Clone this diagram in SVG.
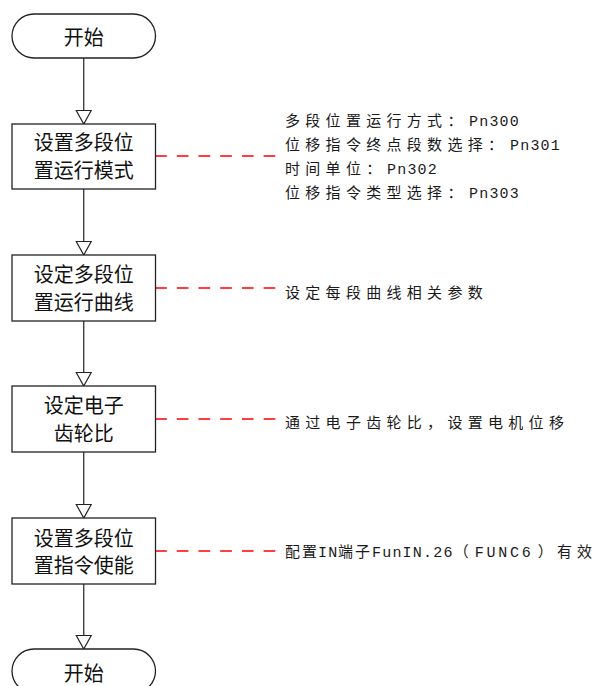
<svg xmlns="http://www.w3.org/2000/svg" width="602" height="686" viewBox="0 0 602 686">
<style>
.node rect{fill:#fff;stroke:#222;stroke-width:1.3}
.lbl{font-family:"Noto Sans CJK SC","Noto Sans",sans-serif;font-size:20px;fill:#111;text-anchor:middle}
.flow{stroke:#222;stroke-width:1.2;fill:none}
.dash{stroke:#f00;stroke-width:1.3;stroke-dasharray:11.7 10;fill:none}
.note{font-family:"Noto Sans CJK SC","Noto Sans",sans-serif;font-size:15px;fill:#1a1a1a;letter-spacing:5.3px}
.mono{font-family:"Liberation Mono","Noto Sans CJK SC",monospace;letter-spacing:1.2px}
</style>
<defs>
<marker id="arr" markerUnits="userSpaceOnUse" markerWidth="16" markerHeight="18" viewBox="0 0 16 18" refX="14.5" refY="8.5" orient="auto">
<path d="M1,1 L14.5,8.5 L1,16 Z" fill="#fff" stroke="#222" stroke-width="1.2"/>
</marker>
</defs>
<rect width="602" height="686" fill="#fff"/>
<g id="connectors">
<line class="flow" x1="83.75" y1="58" x2="83.75" y2="124" marker-end="url(#arr)"/>
<line class="flow" x1="83.75" y1="189" x2="83.75" y2="255" marker-end="url(#arr)"/>
<line class="flow" x1="83.75" y1="321" x2="83.75" y2="386" marker-end="url(#arr)"/>
<line class="flow" x1="83.75" y1="452" x2="83.75" y2="518" marker-end="url(#arr)"/>
<line class="flow" x1="83.75" y1="584" x2="83.75" y2="649" marker-end="url(#arr)"/>
<line class="dash" x1="275.3" y1="156" x2="155.5" y2="156"/>
<line class="dash" x1="275.3" y1="288" x2="155.5" y2="288"/>
<line class="dash" x1="275.3" y1="419" x2="155.5" y2="419"/>
<line class="dash" x1="275.3" y1="551" x2="155.5" y2="551"/>
</g>
<g id="start" class="node">
<rect x="12" y="14" width="143.5" height="44" rx="22" ry="22"/>
<text class="lbl" x="83.75" y="44.5">开始</text>
</g>
<g id="step1" class="node">
<rect x="12" y="124" width="143.5" height="65"/>
<text class="lbl" x="83.75" y="149.5">设置多段位</text>
<text class="lbl" x="83.75" y="177.5">置运行模式</text>
</g>
<g id="step2" class="node">
<rect x="12" y="255" width="143.5" height="66"/>
<text class="lbl" x="83.75" y="281.5">设定多段位</text>
<text class="lbl" x="83.75" y="309.5">置运行曲线</text>
</g>
<g id="step3" class="node">
<rect x="12" y="386" width="143.5" height="66"/>
<text class="lbl" x="83.75" y="412.5">设定电子</text>
<text class="lbl" x="83.75" y="440.5">齿轮比</text>
</g>
<g id="step4" class="node">
<rect x="12" y="518" width="143.5" height="66"/>
<text class="lbl" x="83.75" y="545.5">设置多段位</text>
<text class="lbl" x="83.75" y="572.5">置指令使能</text>
</g>
<g id="end" class="node">
<rect x="12" y="649" width="143.5" height="44" rx="22" ry="22"/>
<text class="lbl" x="83.75" y="680.5">开始</text>
</g>
<g id="note1">
<text class="note" y="125.5"><tspan x="285">多段位置运行方式：</tspan><tspan class="mono" x="469">Pn300</tspan></text>
<text class="note" y="149.5"><tspan x="285">位移指令终点段数选择：</tspan><tspan class="mono" x="510">Pn301</tspan></text>
<text class="note" y="173.5"><tspan x="285">时间单位：</tspan><tspan class="mono" x="387">Pn302</tspan></text>
<text class="note" y="197.5"><tspan x="285">位移指令类型选择：</tspan><tspan class="mono" x="469">Pn303</tspan></text>
</g>
<g id="note2">
<text class="note" x="285" y="297.5">设定每段曲线相关参数</text>
</g>
<g id="note3">
<text class="note" x="285" y="427.5">通过电子齿轮比，设置电机位移</text>
</g>
<g id="note4">
<text class="note" y="556.5"><tspan x="285" letter-spacing="2">配置</tspan><tspan class="mono" x="318" letter-spacing="0.5">IN</tspan><tspan x="338" letter-spacing="2">端子</tspan><tspan class="mono" x="372" letter-spacing="0.4" dx="0 0 0 0 0 0 0 0 0 5 1.5 1.5 1.5 1.5 6">FunIN.26（FUNC6）</tspan><tspan x="557" letter-spacing="5">有效</tspan></text>
</g>
</svg>
